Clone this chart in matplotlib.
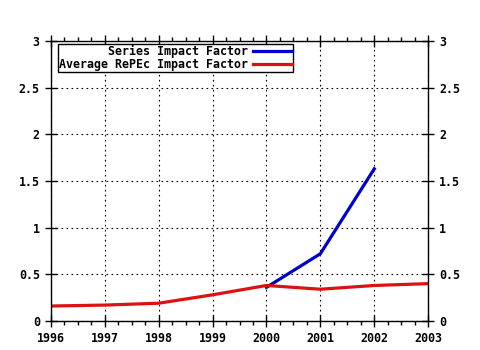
import numpy as np
import matplotlib.pyplot as plt
from matplotlib.ticker import MultipleLocator

# Impact factors by year
years = [1996, 1997, 1998, 1999, 2000, 2001, 2002, 2003]
avg_repec = [0.16, 0.17, 0.19, 0.28, 0.38, 0.34, 0.38, 0.40]
series_years = [2000, 2001, 2002]
series_if = [0.36, 0.72, 1.63]

plt.rcParams['font.family'] = 'DejaVu Sans Mono'
plt.rcParams['font.weight'] = 'bold'
plt.rcParams['font.size'] = 8.4

fig = plt.figure(figsize=(4.8, 3.5), dpi=100)
ax = fig.add_axes([0.106, 0.083, 0.786, 0.8])

ax.plot(series_years, series_if, color='#0000cc', lw=2.3,
        label='       Series Impact Factor')
ax.plot(years, avg_repec, color='#dd1111', lw=2.3,
        label='Average RePEc Impact Factor')

ax.set_xlim(1996, 2003)
ax.set_ylim(0, 3)
ax.xaxis.set_major_locator(MultipleLocator(1))
ax.xaxis.set_minor_locator(MultipleLocator(0.25))
ax.yaxis.set_major_locator(MultipleLocator(0.5))
ax.yaxis.set_major_formatter(plt.FuncFormatter(lambda v, p: f'{v:g}'))

ax.grid(True, which='major', color='black', linestyle=(0, (1.5, 3)), lw=0.8)
ax.tick_params(which='major', direction='inout', length=8, width=1,
               top=True, right=True, labelright=True, pad=4)
ax.tick_params(which='minor', direction='out', length=3, width=1, top=True)
for s in ax.spines.values():
    s.set_linewidth(1)

leg = ax.legend(loc='upper left', bbox_to_anchor=(0.018, 0.99),
                markerfirst=False, fancybox=False, edgecolor='black',
                framealpha=1, borderpad=0.1, labelspacing=0.0,
                handlelength=3.4, handletextpad=0.4, borderaxespad=0)
leg.get_frame().set_linewidth(1)

plt.savefig('out.png', dpi=100)
